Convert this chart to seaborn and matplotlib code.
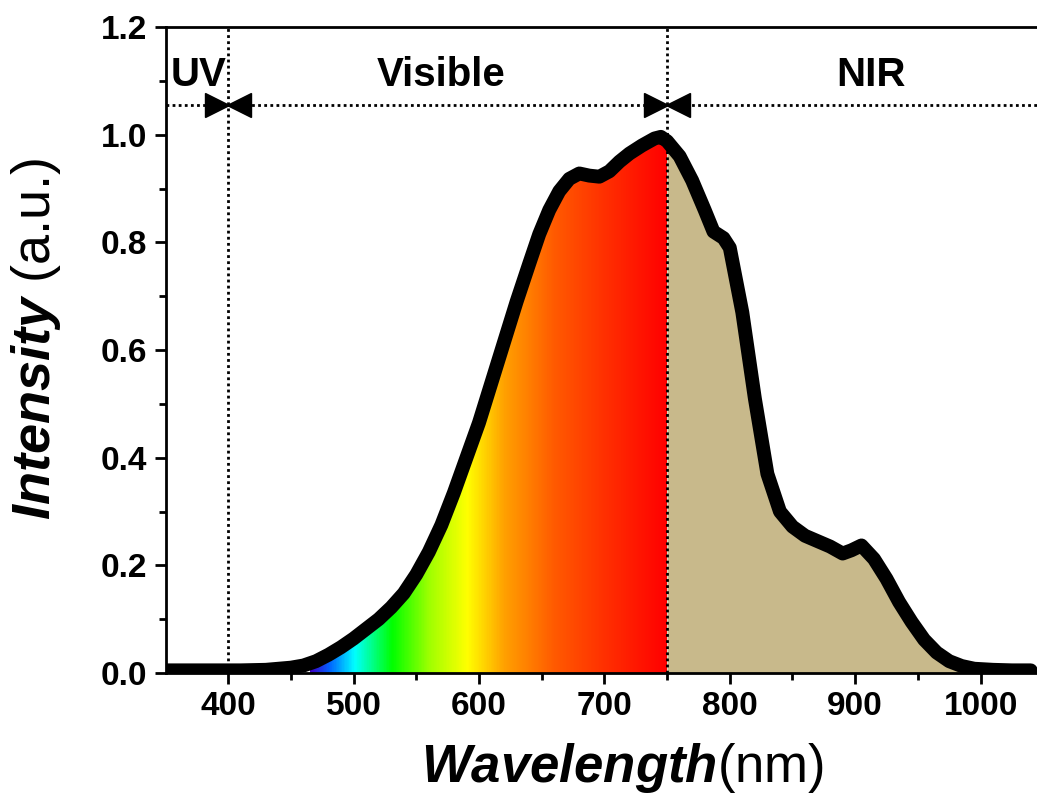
import numpy as np
import pandas as pd
import seaborn as sns
import matplotlib.pyplot as plt
from matplotlib.colors import LinearSegmentedColormap

# emission spectrum
wavelength = [350, 380, 410, 430, 450, 460, 470, 480, 490, 500, 510, 520, 530, 540,
              550, 560, 570, 580, 590, 600, 610, 620, 630, 640, 648, 656, 664, 672,
              680, 688, 696, 704, 712, 720, 730, 740, 745, 750, 760, 770, 780, 787,
              795, 800, 810, 820, 830, 840, 850, 860, 870, 880, 890, 897, 905, 915,
              925, 935, 945, 955, 965, 975, 985, 995, 1010, 1025, 1040]
intensity = [0.005, 0.005, 0.005, 0.006, 0.010, 0.014, 0.022, 0.034, 0.048, 0.064,
             0.082, 0.100, 0.122, 0.148, 0.183, 0.225, 0.275, 0.335, 0.400, 0.465,
             0.540, 0.615, 0.690, 0.760, 0.815, 0.860, 0.895, 0.918, 0.928, 0.924,
             0.922, 0.932, 0.950, 0.965, 0.980, 0.993, 0.996, 0.988, 0.960, 0.915,
             0.860, 0.820, 0.808, 0.790, 0.670, 0.510, 0.370, 0.300, 0.272, 0.255,
             0.245, 0.235, 0.222, 0.228, 0.237, 0.212, 0.175, 0.132, 0.095, 0.062,
             0.038, 0.022, 0.013, 0.008, 0.006, 0.005, 0.005]

# colour stops of the visible band
band_nm = [465, 480, 500, 530, 560, 590, 620, 660, 700, 750]
band_colors = ["#3c00c8", "#0064ff", "#00ffff", "#00ff00", "#a0ff00", "#ffff00",
               "#ffa000", "#ff5a00", "#ff3000", "#ff0000"]

region_names = ["UV", "Visible", "NIR"]
region_x = [376, 570, 913]
borders = [400, 750]

df = pd.DataFrame({"wl": wavelength, "I": intensity})
vis = df[df.wl <= 750]
nir = df[df.wl >= 750]

sns.set_style("ticks")
plt.rcParams["font.family"] = ["Liberation Sans", "DejaVu Sans"]
plt.rcParams["mathtext.fontset"] = "custom"
plt.rcParams["mathtext.rm"] = "Liberation Sans"
plt.rcParams["mathtext.bfit"] = "Liberation Sans:italic:bold"
plt.rcParams["text.color"] = "black"
plt.rcParams["axes.labelcolor"] = "black"
plt.rcParams["xtick.color"] = "black"
plt.rcParams["ytick.color"] = "black"
plt.rcParams["axes.edgecolor"] = "black"

fig = plt.figure(figsize=(10.37, 8.07), dpi=100)
ax = fig.add_axes([0.1596, 0.166, 0.8404, 0.8005])

# rainbow fill under the visible part
pos = [(v - band_nm[0]) / (band_nm[-1] - band_nm[0]) for v in band_nm]
cmap = LinearSegmentedColormap.from_list("spec", list(zip(pos, band_colors)))
poly = ax.fill_between(vis.wl, vis.I, 0, color="none", lw=0)
grad = np.linspace(band_nm[0], band_nm[-1], 400)[None, :]
im = ax.imshow(grad, extent=[band_nm[0], band_nm[-1], 0, 1.2], aspect="auto",
               cmap=cmap, origin="lower", zorder=1)
im.set_clip_path(poly.get_paths()[0], transform=ax.transData)

ax.fill_between(nir.wl, nir.I, 0, color="#c8b98b", lw=0, zorder=1)

sns.lineplot(data=df, x="wl", y="I", color="black", lw=10, ax=ax, zorder=3)

for b in borders:
    ax.axvline(b, color="black", ls=(0, (1, 1.2)), lw=2, zorder=4)
ax.axhline(1.056, color="black", ls=(0, (1, 1.2)), lw=2, zorder=4)
for b in borders:
    ax.plot([b - 9], [1.056], marker=">", ms=17, color="black", zorder=5)
    ax.plot([b + 9], [1.056], marker="<", ms=17, color="black", zorder=5)

for name, x in zip(region_names, region_x):
    ax.text(x, 1.11, name, ha="center", va="center", fontsize=29, fontweight="bold")

ax.set_xlim(350, 1045)
ax.set_ylim(0, 1.2)
ax.set_xticks(range(400, 1001, 100))
ax.set_xticks(range(450, 1001, 100), minor=True)
ax.set_yticks(np.arange(0, 1.21, 0.2))
ax.set_yticks(np.arange(0.1, 1.2, 0.2), minor=True)
ax.set_yticklabels([f"{v:.1f}" for v in np.arange(0, 1.21, 0.2)])
ax.tick_params(which="major", direction="out", length=8, width=2, labelsize=24, pad=5)
ax.tick_params(which="minor", direction="out", length=5, width=2)
for lab in ax.get_xticklabels() + ax.get_yticklabels():
    lab.set_fontweight("bold")

for s in ["left", "bottom", "top"]:
    ax.spines[s].set_linewidth(2)
ax.spines["right"].set_visible(False)

ax.set_xlabel(r"$\mathbfit{Wavelength}$(nm)", fontsize=38)
ax.set_ylabel(r"$\mathbfit{Intensity}$ (a.u.)", fontsize=39)
ax.xaxis.set_label_coords(0.524, -0.105)
ax.yaxis.set_label_coords(-0.118, 0.517)

fig.savefig("out.png", dpi=100)
